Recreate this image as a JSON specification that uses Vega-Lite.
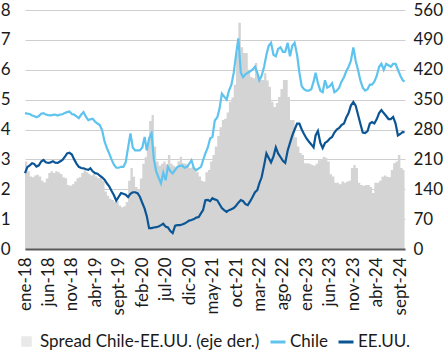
{
  "$schema": "https://vega.github.io/schema/vega-lite/v6.json",
  "width": 380,
  "height": 239,
  "autosize": {"type": "none"},
  "padding": {"left": 25, "top": 10, "right": 39, "bottom": 102},
  "background": "white",
  "config": {
    "font": "Lato",
    "view": {"stroke": null},
    "axis": {"labelFont": "Lato", "labelFontSize": 17, "labelColor": "#1a1a1a", "ticks": false, "domain": false, "grid": false, "title": null, "labelOverlap": false},
    "legend": {"labelFont": "Lato", "labelFontSize": 17, "labelColor": "#1a1a1a", "title": null, "labelLimit": 0, "padding": 0}
  },
  "data": {"values": [
    {"d":"2018-01-01","c":4.55,"u":2.54,"s":205},{"d":"2018-01-16","c":4.53,"u":2.74,"s":182},
    {"d":"2018-02-01","c":4.52,"u":2.8,"s":170},{"d":"2018-02-16","c":4.47,"u":2.87,"s":168},
    {"d":"2018-03-01","c":4.45,"u":2.85,"s":172},{"d":"2018-03-16","c":4.41,"u":2.76,"s":174},
    {"d":"2018-04-01","c":4.45,"u":2.8,"s":170},{"d":"2018-04-16","c":4.53,"u":2.93,"s":160},
    {"d":"2018-05-01","c":4.55,"u":2.98,"s":156},{"d":"2018-05-16","c":4.5,"u":2.9,"s":165},
    {"d":"2018-06-01","c":4.48,"u":2.88,"s":178},{"d":"2018-06-16","c":4.47,"u":2.9,"s":182},
    {"d":"2018-07-01","c":4.49,"u":2.94,"s":178},{"d":"2018-07-16","c":4.5,"u":2.89,"s":182},
    {"d":"2018-08-01","c":4.47,"u":2.88,"s":180},{"d":"2018-08-16","c":4.5,"u":2.93,"s":176},
    {"d":"2018-09-01","c":4.51,"u":2.98,"s":168},{"d":"2018-09-16","c":4.55,"u":3.08,"s":166},
    {"d":"2018-10-01","c":4.58,"u":3.2,"s":150},{"d":"2018-10-16","c":4.6,"u":3.22,"s":148},
    {"d":"2018-11-01","c":4.52,"u":3.16,"s":152},{"d":"2018-11-16","c":4.5,"u":3.0,"s":158},
    {"d":"2018-12-01","c":4.44,"u":2.86,"s":166},{"d":"2018-12-16","c":4.38,"u":2.75,"s":168},
    {"d":"2019-01-01","c":4.5,"u":2.71,"s":178},{"d":"2019-01-16","c":4.58,"u":2.7,"s":184},
    {"d":"2019-02-01","c":4.42,"u":2.67,"s":180},{"d":"2019-02-16","c":4.31,"u":2.65,"s":176},
    {"d":"2019-03-01","c":4.34,"u":2.7,"s":172},{"d":"2019-03-16","c":4.36,"u":2.6,"s":175},
    {"d":"2019-04-01","c":4.26,"u":2.54,"s":170},{"d":"2019-04-16","c":4.2,"u":2.52,"s":166},
    {"d":"2019-05-01","c":4.15,"u":2.46,"s":168},{"d":"2019-05-16","c":3.98,"u":2.4,"s":160},
    {"d":"2019-06-01","c":3.6,"u":2.32,"s":135},{"d":"2019-06-16","c":3.38,"u":2.2,"s":125},
    {"d":"2019-07-01","c":3.2,"u":2.1,"s":118},{"d":"2019-07-16","c":3.0,"u":1.95,"s":115},
    {"d":"2019-08-01","c":2.82,"u":1.8,"s":110},{"d":"2019-08-16","c":2.72,"u":1.62,"s":112},
    {"d":"2019-09-01","c":2.72,"u":1.75,"s":102},{"d":"2019-09-16","c":2.75,"u":1.87,"s":98},
    {"d":"2019-10-01","c":2.75,"u":1.85,"s":100},{"d":"2019-10-16","c":2.9,"u":1.82,"s":110},
    {"d":"2019-11-01","c":3.4,"u":1.74,"s":160},{"d":"2019-11-16","c":3.87,"u":1.85,"s":190},
    {"d":"2019-12-01","c":3.4,"u":1.9,"s":169},{"d":"2019-12-16","c":3.3,"u":1.9,"s":145},
    {"d":"2020-01-01","c":3.3,"u":1.87,"s":140},{"d":"2020-01-16","c":3.3,"u":1.75,"s":165},
    {"d":"2020-02-01","c":3.4,"u":1.54,"s":200},{"d":"2020-02-16","c":3.75,"u":1.35,"s":215},
    {"d":"2020-03-01","c":3.3,"u":1.1,"s":245},{"d":"2020-03-16","c":3.7,"u":0.7,"s":300},
    {"d":"2020-04-01","c":3.87,"u":0.7,"s":314},{"d":"2020-04-16","c":3.0,"u":0.72,"s":240},
    {"d":"2020-05-01","c":2.6,"u":0.73,"s":205},{"d":"2020-05-16","c":2.4,"u":0.75,"s":195},
    {"d":"2020-06-01","c":2.2,"u":0.8,"s":200},{"d":"2020-06-16","c":2.55,"u":0.85,"s":205},
    {"d":"2020-07-01","c":2.3,"u":0.75,"s":198},{"d":"2020-07-16","c":2.75,"u":0.72,"s":220},
    {"d":"2020-08-01","c":2.6,"u":0.6,"s":200},{"d":"2020-08-16","c":2.53,"u":0.53,"s":195},
    {"d":"2020-09-01","c":2.65,"u":0.78,"s":192},{"d":"2020-09-16","c":2.75,"u":0.8,"s":205},
    {"d":"2020-10-01","c":2.78,"u":0.8,"s":216},{"d":"2020-10-16","c":2.8,"u":0.82,"s":201},
    {"d":"2020-11-01","c":2.72,"u":0.85,"s":200},{"d":"2020-11-16","c":2.75,"u":0.9,"s":195},
    {"d":"2020-12-01","c":2.85,"u":0.95,"s":190},{"d":"2020-12-16","c":2.97,"u":0.97,"s":192},
    {"d":"2021-01-01","c":2.7,"u":1.0,"s":185},{"d":"2021-01-16","c":2.64,"u":1.05,"s":180},
    {"d":"2021-02-01","c":2.7,"u":1.07,"s":170},{"d":"2021-02-16","c":2.75,"u":1.2,"s":160},
    {"d":"2021-03-01","c":2.97,"u":1.3,"s":158},{"d":"2021-03-16","c":3.2,"u":1.63,"s":180},
    {"d":"2021-04-01","c":3.4,"u":1.64,"s":185},{"d":"2021-04-16","c":3.7,"u":1.6,"s":205},
    {"d":"2021-05-01","c":3.75,"u":1.7,"s":220},{"d":"2021-05-16","c":4.3,"u":1.66,"s":240},
    {"d":"2021-06-01","c":4.4,"u":1.63,"s":265},{"d":"2021-06-16","c":4.7,"u":1.5,"s":285},
    {"d":"2021-07-01","c":5.2,"u":1.37,"s":302},{"d":"2021-07-16","c":5.1,"u":1.3,"s":305},
    {"d":"2021-08-01","c":5.0,"u":1.24,"s":320},{"d":"2021-08-16","c":5.3,"u":1.3,"s":345},
    {"d":"2021-09-01","c":5.5,"u":1.33,"s":355},{"d":"2021-09-16","c":5.9,"u":1.37,"s":385},
    {"d":"2021-10-01","c":6.5,"u":1.45,"s":460},{"d":"2021-10-16","c":7.05,"u":1.55,"s":530},
    {"d":"2021-11-01","c":5.9,"u":1.64,"s":473},{"d":"2021-11-16","c":5.75,"u":1.6,"s":459},
    {"d":"2021-12-01","c":5.85,"u":1.5,"s":459},{"d":"2021-12-16","c":5.9,"u":1.47,"s":420},
    {"d":"2022-01-01","c":5.95,"u":1.6,"s":403},{"d":"2022-01-16","c":6.0,"u":1.74,"s":400},
    {"d":"2022-02-01","c":6.1,"u":1.9,"s":436},{"d":"2022-02-16","c":5.9,"u":1.97,"s":410},
    {"d":"2022-03-01","c":5.65,"u":2.2,"s":396},{"d":"2022-03-16","c":5.8,"u":2.4,"s":396},
    {"d":"2022-04-01","c":6.1,"u":2.8,"s":412},{"d":"2022-04-16","c":6.5,"u":3.2,"s":395},
    {"d":"2022-05-01","c":6.8,"u":3.05,"s":380},{"d":"2022-05-16","c":6.9,"u":2.9,"s":345},
    {"d":"2022-06-01","c":6.5,"u":3.1,"s":333},{"d":"2022-06-16","c":6.45,"u":3.4,"s":342},
    {"d":"2022-07-01","c":6.7,"u":3.2,"s":356},{"d":"2022-07-16","c":6.75,"u":3.08,"s":375},
    {"d":"2022-08-01","c":6.6,"u":2.95,"s":396},{"d":"2022-08-16","c":6.6,"u":2.88,"s":396},
    {"d":"2022-09-01","c":6.9,"u":3.3,"s":356},{"d":"2022-09-16","c":6.45,"u":3.55,"s":302},
    {"d":"2022-10-01","c":6.8,"u":3.8,"s":302},{"d":"2022-10-16","c":6.9,"u":4.0,"s":262},
    {"d":"2022-11-01","c":6.5,"u":4.2,"s":240},{"d":"2022-11-16","c":5.9,"u":4.2,"s":225},
    {"d":"2022-12-01","c":5.45,"u":4.0,"s":220},{"d":"2022-12-16","c":5.35,"u":3.85,"s":201},
    {"d":"2023-01-01","c":5.3,"u":3.7,"s":201},{"d":"2023-01-16","c":5.3,"u":3.6,"s":200},
    {"d":"2023-02-01","c":5.35,"u":3.5,"s":197},{"d":"2023-02-16","c":5.6,"u":3.4,"s":195},
    {"d":"2023-03-01","c":5.9,"u":3.8,"s":200},{"d":"2023-03-16","c":5.55,"u":3.95,"s":208},
    {"d":"2023-04-01","c":5.3,"u":3.55,"s":210},{"d":"2023-04-16","c":5.25,"u":3.38,"s":216},
    {"d":"2023-05-01","c":5.65,"u":3.55,"s":214},{"d":"2023-05-16","c":5.4,"u":3.6,"s":205},
    {"d":"2023-06-01","c":5.45,"u":3.7,"s":175},{"d":"2023-06-16","c":5.55,"u":3.75,"s":170},
    {"d":"2023-07-01","c":5.25,"u":3.9,"s":155},{"d":"2023-07-16","c":5.3,"u":4.0,"s":155},
    {"d":"2023-08-01","c":5.4,"u":4.05,"s":152},{"d":"2023-08-16","c":5.6,"u":4.15,"s":158},
    {"d":"2023-09-01","c":5.75,"u":4.2,"s":155},{"d":"2023-09-16","c":5.95,"u":4.4,"s":158},
    {"d":"2023-10-01","c":6.1,"u":4.55,"s":160},{"d":"2023-10-16","c":6.3,"u":4.8,"s":190},
    {"d":"2023-11-01","c":6.75,"u":4.92,"s":197},{"d":"2023-11-16","c":6.3,"u":4.8,"s":190},
    {"d":"2023-12-01","c":6.0,"u":4.5,"s":155},{"d":"2023-12-16","c":5.65,"u":4.2,"s":150},
    {"d":"2024-01-01","c":5.4,"u":3.9,"s":148},{"d":"2024-01-16","c":5.3,"u":3.88,"s":150},
    {"d":"2024-02-01","c":5.35,"u":3.95,"s":150},{"d":"2024-02-16","c":5.5,"u":4.2,"s":145},
    {"d":"2024-03-01","c":5.5,"u":4.25,"s":131},{"d":"2024-03-16","c":5.6,"u":4.2,"s":155},
    {"d":"2024-04-01","c":5.8,"u":4.35,"s":155},{"d":"2024-04-16","c":6.1,"u":4.55,"s":160},
    {"d":"2024-05-01","c":6.2,"u":4.65,"s":169},{"d":"2024-05-16","c":6.0,"u":4.55,"s":172},
    {"d":"2024-06-01","c":6.2,"u":4.45,"s":169},{"d":"2024-06-16","c":6.15,"u":4.35,"s":168},
    {"d":"2024-07-01","c":6.1,"u":4.35,"s":185},{"d":"2024-07-16","c":6.2,"u":4.42,"s":201},
    {"d":"2024-08-01","c":6.2,"u":4.2,"s":205},{"d":"2024-08-16","c":6.0,"u":3.8,"s":220},
    {"d":"2024-09-01","c":5.8,"u":3.85,"s":190},{"d":"2024-09-16","c":5.65,"u":3.92,"s":185},
    {"d":"2024-09-28","c":5.6,"u":3.9,"s":182}
  ]},
  "encoding": {
    "x": {"field": "d", "type": "temporal",
      "scale": {"domain": [{"year": 2018, "month": 1, "date": 1}, {"year": 2024, "month": 10, "date": 1}]},
      "axis": {"domain": true, "domainColor": "#5a5a5a", "domainWidth": 2, "zindex": 1, "labelAngle": -90, "labelPadding": 8, "labelOverlap": false,
        "values": [{"year":2018,"month":1,"date":1},{"year":2018,"month":6,"date":1},{"year":2018,"month":11,"date":1},{"year":2019,"month":4,"date":1},{"year":2019,"month":9,"date":1},{"year":2020,"month":2,"date":1},{"year":2020,"month":7,"date":1},{"year":2020,"month":12,"date":1},{"year":2021,"month":5,"date":1},{"year":2021,"month":10,"date":1},{"year":2022,"month":3,"date":1},{"year":2022,"month":8,"date":1},{"year":2023,"month":1,"date":1},{"year":2023,"month":6,"date":1},{"year":2023,"month":11,"date":1},{"year":2024,"month":4,"date":1},{"year":2024,"month":9,"date":1}],
        "labelExpr": "['ene','feb','mar','abr','may','jun','jul','ago','sept','oct','nov','dic'][month(datum.value)] + '-' + timeFormat(datum.value, '%y')"}}
  },
  "layer": [
    {
      "mark": {"type": "area", "interpolate": "step-after"},
      "encoding": {
        "y": {"field": "s", "type": "quantitative",
          "scale": {"domain": [0, 560], "nice": false},
          "axis": {"orient": "right", "values": [0, 70, 140, 210, 280, 350, 420, 490, 560], "labelPadding": 8, "labelOverlap": false}},
        "fill": {"datum": "Spread Chile-EE.UU. (eje der.)",
          "scale": {"range": ["#d4d4d5"]},
          "legend": {"orient": "none", "legendX": -7, "legendY": 323, "direction": "horizontal", "symbolType": "square", "symbolSize": 110, "symbolOpacity": 0.5, "symbolStrokeWidth": 0, "labelOffset": 5}}
      }
    },
    {
      "transform": [{"fold": ["c", "u"], "as": ["k", "v"]}],
      "mark": {"type": "line", "strokeWidth": 2.2},
      "encoding": {
        "y": {"field": "v", "type": "quantitative",
          "scale": {"domain": [0, 8], "nice": false},
          "axis": {"orient": "left", "values": [0, 1, 2, 3, 4, 5, 6, 7, 8], "grid": true, "gridColor": "#cfcfcf", "gridWidth": 1, "labelPadding": 15, "labelOverlap": false}},
        "stroke": {"field": "k", "type": "nominal",
          "scale": {"domain": ["c", "u"], "range": ["#5ec3ee", "#0b5594"]},
          "legend": {"orient": "none", "legendX": 244, "legendY": 323, "direction": "horizontal", "symbolType": "stroke", "symbolSize": 225, "symbolStrokeWidth": 3, "labelOffset": 3, "columnPadding": 4, "gridAlign": "each",
            "labelExpr": "datum.label == 'c' ? 'Chile' : 'EE.UU.'"}}
      }
    }
  ],
  "resolve": {"scale": {"y": "independent"}}
}
